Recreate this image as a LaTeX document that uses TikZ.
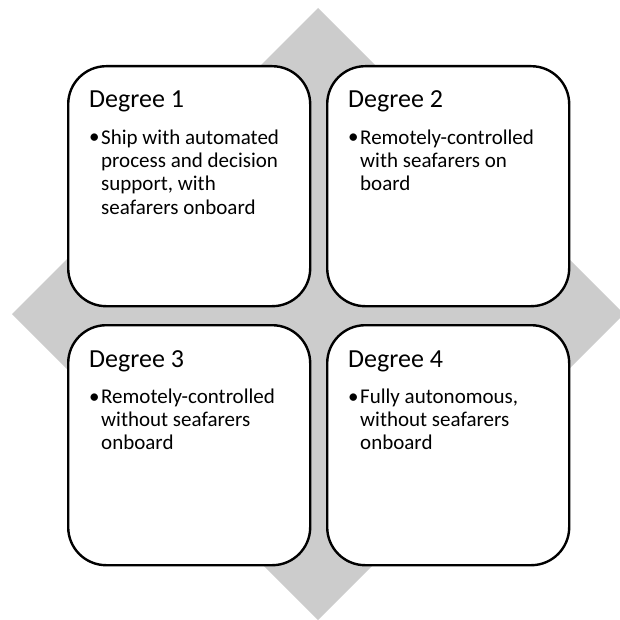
\documentclass[tikz,border=0pt]{standalone}
\usepackage{fontspec}
\setmainfont{Carlito}
\begin{document}
\begin{tikzpicture}[x=1pt,y=-1pt,
  panel/.style={draw=black,line width=2.4pt,fill=white,rounded corners=38pt,
    minimum width=242pt,minimum height=240pt,inner sep=0pt,anchor=north west},
  heading/.style={anchor=base west,inner sep=0pt,font=\fontsize{26pt}{31pt}\selectfont},
  bulletmark/.style={anchor=base west,inner sep=0pt,font=\fontsize{21pt}{23.3pt}\selectfont},
  bodytext/.style={anchor=north west,inner sep=0pt,align=left,font=\fontsize{21pt}{23.3pt}\selectfont}]
\useasboundingbox (0,0) rectangle (620,620);
\clip (0,0) rectangle (620,620);
% grey diamond behind the four panels
\fill[black!20] (318,8) -- (624,314) -- (318,620) -- (12,314) -- cycle;
% panels
\node[panel] (p1) at (67,65) {};
\node[panel] (p2) at (326,65) {};
\node[panel] (p3) at (67,324) {};
\node[panel] (p4) at (326,324) {};
% panel texts: heading, bullet, and the bullet's lines (first line strut is 0.7 of 23.3pt)
\foreach \p/\t/\b in {p1/Degree 1/{Ship with automated\\process and decision\\support, with\\seafarers onboard},
                      p2/Degree 2/{Remotely-controlled\\with seafarers on\\board},
                      p3/Degree 3/{Remotely-controlled\\without seafarers\\onboard},
                      p4/Degree 4/{Fully autonomous,\\without seafarers\\onboard}}{
  \node[heading] (\p h) at ([shift={(22,43)}]\p.north west) {\t};
  \node[bulletmark] (\p d) at ([shift={(22,79)}]\p.north west) {•};
  \node[bodytext] (\p b) at ([shift={(34,62.69)}]\p.north west) {\strut\b};
}
\end{tikzpicture}
\end{document}
